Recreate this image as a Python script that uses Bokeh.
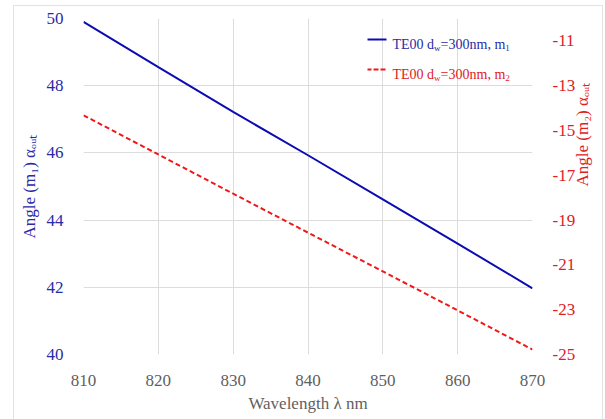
import math
from bokeh.plotting import figure
from bokeh.models import Range1d, LinearAxis, FixedTicker, Label, PolyAnnotation
from bokeh.embed import file_html
from bokeh.resources import INLINE

# Wavelength sweep (nm) and output angles for the two diffraction orders
wavelength = [810, 820, 830, 840, 850, 860, 870]
angle_m1 = [49.90, 48.55, 47.22, 45.93, 44.62, 43.30, 41.97]
angle_m2 = [-14.32, -16.07, -17.82, -19.56, -21.29, -23.03, -24.78]

x_ticks = [810, 820, 830, 840, 850, 860, 870]
left_ticks = [40, 42, 44, 46, 48, 50]
right_ticks = [-25, -23, -21, -19, -17, -15, -13, -11]

W, H = 605, 419
# plot frame on the canvas (pixels from the top-left corner)
FRAME_L, FRAME_R, FRAME_T, FRAME_B = 83, 532, 18, 354

FONT = "Liberation Serif"
BLUE_LINE = "#0c0cb4"
RED_LINE = "#f01818"
BLUE_TXT = "#2a2aa6"
RED_TXT = "#e0201c"
GREY_TXT = "#5f5f5f"
EDGE = "#e2e2e2"

p = figure(width=W, height=H, output_backend="svg", toolbar_location=None,
           x_range=Range1d(810, 870), y_range=Range1d(40, 50),
           min_border_left=FRAME_L, min_border_right=W - FRAME_R,
           min_border_top=FRAME_T, min_border_bottom=H - FRAME_B)
p.extra_y_ranges = {"m2": Range1d(-25, -10)}
p.outline_line_color = None
p.background_fill_color = "white"
p.border_fill_alpha = 0
# thin light frame around the chart area, painted behind the canvas
line = f"linear-gradient({EDGE}, {EDGE})"
p.styles = {
    "background": (f"{line} 13px 5px / 1px 420px no-repeat, "
                   f"{line} 13px 5px / 590px 1px no-repeat, "
                   f"{line} 602px 5px / 1px 420px no-repeat, white"),
}

p.xgrid.ticker = FixedTicker(ticks=x_ticks)
p.ygrid.ticker = FixedTicker(ticks=left_ticks)
for g in (p.xgrid, p.ygrid):
    g.grid_line_color = "#dcdcdc"
    g.grid_line_width = 1

xa = p.xaxis[0]
xa.ticker = FixedTicker(ticks=x_ticks)
xa.axis_label = "Wavelength λ nm"
xa.axis_label_text_color = GREY_TXT
xa.axis_label_standoff = 5
xa.major_label_text_color = GREY_TXT

ya = p.yaxis[0]
ya.ticker = FixedTicker(ticks=left_ticks)
ya.axis_label = "Angle (m₁) αₒᵤₜ"
ya.axis_label_text_color = BLUE_TXT
ya.axis_label_standoff = 5
ya.major_label_text_color = BLUE_TXT

ra = LinearAxis(y_range_name="m2", ticker=FixedTicker(ticks=right_ticks))
ra.axis_label = "Angle (m₂) αₒᵤₜ"
ra.axis_label_text_color = RED_TXT
ra.axis_label_standoff = 4
ra.major_label_text_color = RED_TXT
if "axis_label_orientation" in ra.properties():
    # read upwards, like the left-hand title
    ra.axis_label_orientation = math.pi / 2
p.add_layout(ra, "right")

# tick labels written out explicitly (plain hyphen for negatives)
xa.major_label_overrides = {t: str(t) for t in x_ticks}
ya.major_label_overrides = {t: str(t) for t in left_ticks}
ra.major_label_overrides = {t: str(t) for t in right_ticks}

for ax in (xa, ya, ra):
    ax.axis_line_color = None
    ax.major_tick_line_color = None
    ax.minor_tick_line_color = None
    ax.major_label_standoff = 14
    ax.major_label_text_font = FONT
    ax.major_label_text_font_size = "17px"
    ax.major_label_text_font_style = "normal"
    ax.axis_label_text_font = FONT
    ax.axis_label_text_font_size = "17px"
    ax.axis_label_text_font_style = "normal"

p.line(wavelength, angle_m1, line_color=BLUE_LINE, line_width=2)
p.line(wavelength, angle_m2, line_color=RED_LINE, line_width=2,
       line_dash="5 3", y_range_name="m2")

# Approximate advance widths of Times-style glyphs, in em
ADV = {"T": .611, "E": .611, " ": .25, "d": .5, "w": .722, "=": .564,
       "n": .5, "m": .778, ",": .25}


def text_width(s, size):
    return sum(ADV.get(c, .5) for c in s) * size


def rich_text(pieces, x0, y0, color, size, sub_size):
    """Lay out normal/subscript pieces from a baseline point given in canvas
    pixels; annotation screen units count from the frame's bottom-left."""
    x = x0
    for txt, is_sub in pieces:
        fs = sub_size if is_sub else size
        shift = 0.28 * size if is_sub else 0.0
        p.add_layout(Label(x=x - FRAME_L, y=FRAME_B - (y0 + shift),
                           x_units="screen", y_units="screen",
                           text=txt, text_font=FONT, text_font_size=f"{fs}px",
                           text_color=color,
                           text_align="left", text_baseline="alphabetic"))
        x += text_width(txt, fs)


# Legend: sample strokes plus subscripted labels
legend_rows = [("1", BLUE_LINE, BLUE_TXT, None, 39),
               ("2", RED_LINE, RED_TXT, "4 3", 69)]
for order, lc, tc, dash, yrow in legend_rows:
    xs = [x - FRAME_L for x in (367, 386, 386, 367)]
    kw = dict(xs=xs, ys=[FRAME_B - yrow] * 4,
              xs_units="screen", ys_units="screen",
              fill_alpha=0, line_color=lc, line_alpha=1, line_width=2)
    if dash:
        kw["line_dash"] = dash
    p.add_layout(PolyAnnotation(**kw))
    rich_text([("TE00 d", False), ("w", True), ("=300nm, m", False),
               (order, True)], 392, yrow + 4.5, tc, 14, 9)

open("out.html", "w").write(file_html(p, INLINE))
